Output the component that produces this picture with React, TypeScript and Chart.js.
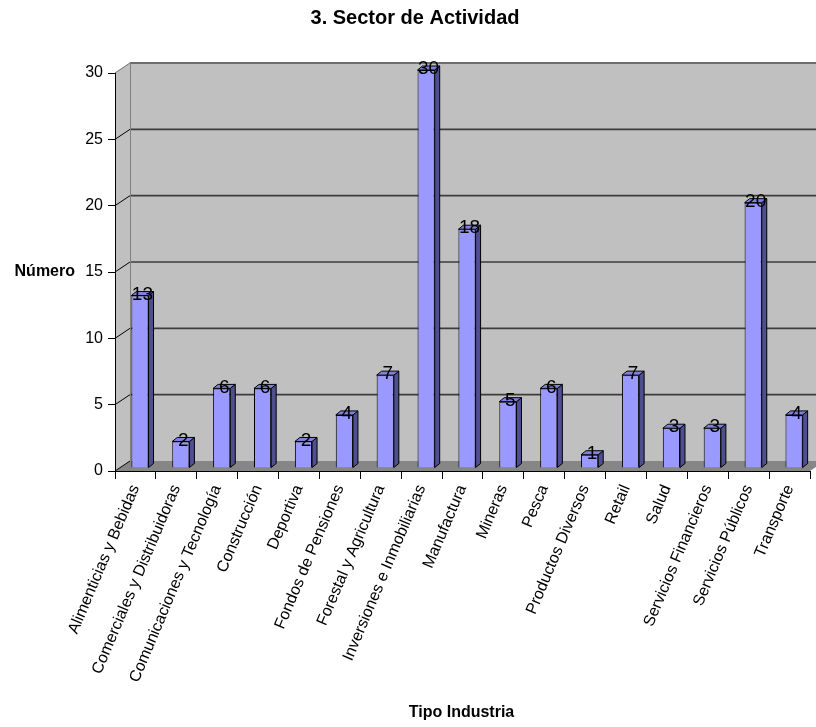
import React, { useEffect, useRef } from "react";
import { Chart, registerables } from "chart.js";

Chart.register(...registerables);

const FONT = '"Liberation Sans", Arial, Helvetica, sans-serif';

const chartTitle = "3. Sector de Actividad";
const xAxisTitle = "Tipo Industria";
const yAxisTitle = "Número";

const categories = [
  "Alimenticias y Bebidas",
  "Comerciales y Distribuidoras",
  "Comunicaciones y Tecnología",
  "Construcción",
  "Deportiva",
  "Fondos de Pensiones",
  "Forestal y Agricultura",
  "Inversiones e Inmobiliarias",
  "Manufactura",
  "Mineras",
  "Pesca",
  "Productos Diversos",
  "Retail",
  "Salud",
  "Servicios Financieros",
  "Servicios Públicos",
  "Transporte",
];

const values = [13, 2, 6, 6, 2, 4, 7, 30, 18, 5, 6, 1, 7, 3, 3, 20, 4];

const yTickValues = [0, 5, 10, 15, 20, 25, 30];

// 3D geometry (styling)
const WALL_DX = 15;
const WALL_DY = -10;
const BAR_DX = 4.5;
const BAR_DY = -3;
const SIDE_DX = 5;
const SIDE_DY = -4;

const threeDPlugin = {
  id: "threeD",
  beforeDraw(chart: any) {
    const { ctx, chartArea, scales } = chart;
    const { left, right, top, bottom } = chartArea;
    const y = scales.y;
    ctx.save();
    // side wall
    ctx.fillStyle = "#C0C0C0";
    ctx.beginPath();
    ctx.moveTo(left, top);
    ctx.lineTo(left + WALL_DX, top + WALL_DY);
    ctx.lineTo(left + WALL_DX, bottom + WALL_DY);
    ctx.lineTo(left, bottom);
    ctx.closePath();
    ctx.fill();
    // back wall
    ctx.fillRect(left + WALL_DX, top + WALL_DY, right - left, bottom - top);
    // floor
    ctx.fillStyle = "#868686";
    ctx.beginPath();
    ctx.moveTo(left, bottom);
    ctx.lineTo(right, bottom);
    ctx.lineTo(right + WALL_DX, bottom + WALL_DY);
    ctx.lineTo(left + WALL_DX, bottom + WALL_DY);
    ctx.closePath();
    ctx.fill();
    // gridlines on back wall + side wall diagonals
    yTickValues.forEach((v) => {
      const py = y.getPixelForValue(v);
      if (v > 0) {
        ctx.strokeStyle = v === 30 ? "#6E6E6E" : "#3C3C3C";
        ctx.lineWidth = v === 30 ? 2 : 1.6;
        ctx.beginPath();
        ctx.moveTo(left + WALL_DX, py + WALL_DY);
        ctx.lineTo(right + WALL_DX, py + WALL_DY);
        ctx.stroke();
      }
      ctx.strokeStyle = v === 30 ? "#6E6E6E" : "#000";
      ctx.lineWidth = 1;
      ctx.beginPath();
      ctx.moveTo(left, py);
      ctx.lineTo(left + WALL_DX, py + WALL_DY);
      ctx.stroke();
    });
    // wall corner edge
    ctx.strokeStyle = "#808080";
    ctx.lineWidth = 1;
    ctx.beginPath();
    ctx.moveTo(left + WALL_DX + 0.5, top + WALL_DY);
    ctx.lineTo(left + WALL_DX + 0.5, bottom + WALL_DY);
    ctx.stroke();
    ctx.restore();
  },
  beforeDatasetsDraw(chart: any) {
    chart.ctx.save();
    chart.ctx.translate(BAR_DX, BAR_DY);
  },
  afterDatasetsDraw(chart: any) {
    const ctx = chart.ctx;
    const meta = chart.getDatasetMeta(0);
    meta.data.forEach((bar: any, i: number) => {
      const { x, y, base, width } = bar.getProps(["x", "y", "base", "width"], true);
      const l = x - width / 2;
      const r = x + width / 2;
      ctx.lineWidth = 1;
      ctx.strokeStyle = "#000";
      // side face
      ctx.fillStyle = "#4F4F8F";
      ctx.beginPath();
      ctx.moveTo(r, y);
      ctx.lineTo(r + SIDE_DX, y + SIDE_DY);
      ctx.lineTo(r + SIDE_DX, base + SIDE_DY);
      ctx.lineTo(r, base);
      ctx.closePath();
      ctx.fill();
      ctx.stroke();
      // top face
      ctx.fillStyle = "#8080E0";
      ctx.beginPath();
      ctx.moveTo(l, y);
      ctx.lineTo(l + SIDE_DX, y + SIDE_DY);
      ctx.lineTo(r + SIDE_DX, y + SIDE_DY);
      ctx.lineTo(r, y);
      ctx.closePath();
      ctx.fill();
      ctx.stroke();
      // value label
      ctx.fillStyle = "#000";
      ctx.font = `19px ${FONT}`;
      ctx.textAlign = "center";
      ctx.textBaseline = "middle";
      ctx.fillText(String(values[i]), x + SIDE_DX / 2, y + SIDE_DY / 2 + 1);
    });
    ctx.restore();
  },
  afterDraw(chart: any) {
    const { ctx, scales } = chart;
    ctx.save();
    ctx.fillStyle = "#000";
    ctx.textBaseline = "middle";
    ctx.textAlign = "center";
    ctx.font = `bold 20px ${FONT}`;
    ctx.fillText(chartTitle, 415, 18);
    ctx.font = `bold 16px ${FONT}`;
    ctx.fillText(xAxisTitle, 461.5, 713);
    ctx.textAlign = "right";
    ctx.fillText(yAxisTitle, 75, scales.y.getPixelForValue(15));
    ctx.restore();
  },
};

export default function App() {
  const canvasRef = useRef<HTMLCanvasElement | null>(null);

  useEffect(() => {
    if (!canvasRef.current) return;
    Chart.defaults.font.family = FONT;
    const chart = new Chart(canvasRef.current, {
      type: "bar",
      data: {
        labels: categories,
        datasets: [
          {
            data: values,
            backgroundColor: "#9999FF",
            borderColor: "#000000",
            borderWidth: 1,
            categoryPercentage: 1,
            barPercentage: 0.42,
          },
        ],
      },
      options: {
        responsive: false,
        animation: false,
        devicePixelRatio: 1,
        layout: { padding: { top: 73, right: 6, left: 0, bottom: 0 } },
        plugins: {
          legend: { display: false },
          title: { display: false },
          tooltip: { enabled: false },
        },
        scales: {
          x: {
            afterFit: (scale: any) => {
              scale.height = 256;
            },
            grid: {
              display: true,
              drawOnChartArea: false,
              drawTicks: true,
              tickLength: 8,
              color: "#000",
              offset: true,
            },
            border: { display: true, color: "#000", width: 1 },
            ticks: {
              autoSkip: false,
              maxRotation: 67,
              minRotation: 67,
              padding: 3,
              color: "#000",
              font: { size: 16, family: FONT },
            },
          },
          y: {
            min: 0,
            max: 30,
            afterFit: (scale: any) => {
              scale.width = 115;
            },
            afterBuildTicks: (scale: any) => {
              scale.ticks = yTickValues.map((v) => ({ value: v }));
            },
            grid: {
              display: true,
              drawOnChartArea: false,
              drawTicks: true,
              tickLength: 7,
              color: "#000",
            },
            border: { display: true, color: "#000", width: 1 },
            ticks: {
              padding: 5,
              color: "#000",
              font: { size: 16, family: FONT },
            },
          },
        },
      },
      plugins: [threeDPlugin],
    });
    return () => chart.destroy();
  }, []);

  return (
    <div style={{ position: "absolute", left: 0, top: 0, width: 816, height: 727, background: "#fff" }}>
      <canvas ref={canvasRef} width={816} height={727} style={{ display: "block" }} />
    </div>
  );
}
